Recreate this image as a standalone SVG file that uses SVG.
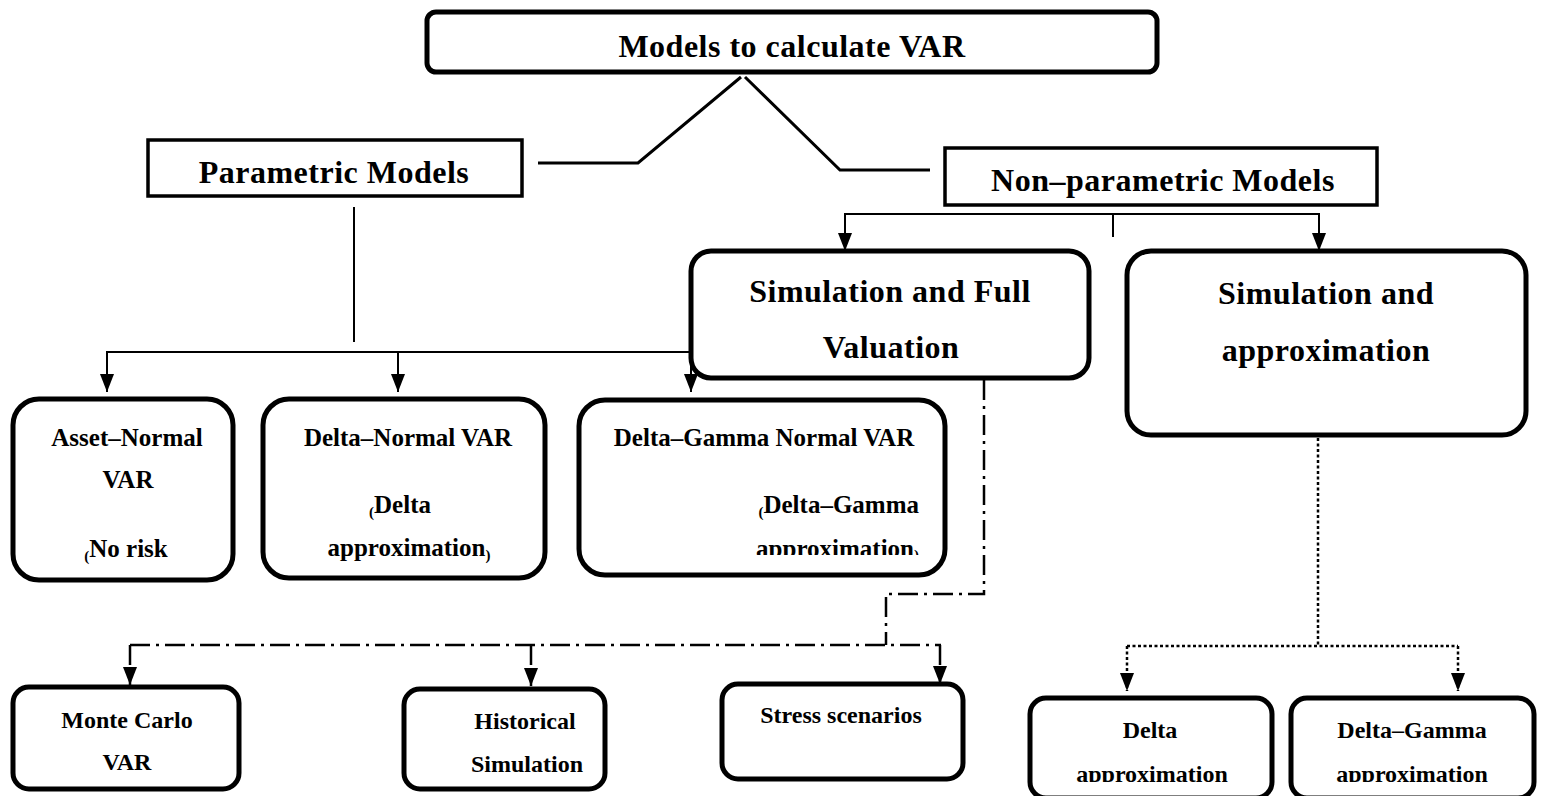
<svg xmlns="http://www.w3.org/2000/svg" width="1542" height="796" viewBox="0 0 1542 796">
<style>
text{font-family:"Liberation Serif","DejaVu Serif",serif;font-weight:bold;fill:#000;text-anchor:middle}
.rb{fill:#fff;stroke:#000;stroke-width:5}
.sq{fill:#fff;stroke:#000;stroke-width:3.5}
.c{fill:none;stroke:#000;stroke-width:2}
.c3{fill:none;stroke:#000;stroke-width:3}
.dd{fill:none;stroke:#000;stroke-width:2.5;stroke-dasharray:20 6 3 6}
.dt{fill:none;stroke:#000;stroke-width:2.5;stroke-dasharray:3 2.5}
.t28{font-size:32px;letter-spacing:0.5px}
.t24{font-size:25px}
.t20{font-size:24px}
.p{font-size:15px}
</style>
<defs>
<marker id="ah" markerUnits="userSpaceOnUse" markerWidth="18" markerHeight="14" refX="18" refY="7" orient="auto" viewBox="0 0 18 14">
<path d="M0,0 L18,7 L0,14 Z" fill="#000"/>
</marker>
<clipPath id="clipDG"><rect x="580" y="400" width="364" height="155"/></clipPath>
<clipPath id="clipBot"><rect x="0" y="600" width="1542" height="182"/></clipPath>
</defs>

<g id="connectors">
<polyline class="c3" points="741,77 638,163 538,163"/>
<polyline class="c3" points="745,77 840,170 930,170"/>
<line class="c" x1="354" y1="207" x2="354" y2="342"/>
<line class="c" x1="107" y1="352" x2="692" y2="352"/>
<line class="c" x1="107" y1="351" x2="107" y2="392" marker-end="url(#ah)"/>
<line class="c" x1="398" y1="352" x2="398" y2="392" marker-end="url(#ah)"/>
<line class="c" x1="691" y1="352" x2="691" y2="392" marker-end="url(#ah)"/>
<line class="c" x1="844" y1="214" x2="1320" y2="214"/>
<line class="c" x1="1113" y1="214" x2="1113" y2="237"/>
<line class="c" x1="845" y1="213" x2="845" y2="251" marker-end="url(#ah)"/>
<line class="c" x1="1319" y1="213" x2="1319" y2="251" marker-end="url(#ah)"/>
<polyline class="dd" points="984,380 984,594 886,594 886,645"/>
<line class="dd" x1="130" y1="645" x2="941" y2="645"/>
<line class="dd" x1="130" y1="645" x2="130" y2="685" marker-end="url(#ah)"/>
<line class="dd" x1="531" y1="645" x2="531" y2="686" marker-end="url(#ah)"/>
<line class="dd" x1="940" y1="645" x2="940" y2="684" marker-end="url(#ah)"/>
<line class="dt" x1="1318" y1="438" x2="1318" y2="646"/>
<line class="dt" x1="1127" y1="646" x2="1458" y2="646"/>
<line class="dt" x1="1127" y1="646" x2="1127" y2="691" marker-end="url(#ah)"/>
<line class="dt" x1="1458" y1="646" x2="1458" y2="691" marker-end="url(#ah)"/>
</g>

<g id="n-top">
<rect class="rb" x="427" y="12" width="730" height="60" rx="9"/>
<text class="t28" x="792" y="57">Models to calculate VAR</text>
</g>

<g id="n-param">
<rect class="sq" x="148" y="140" width="374" height="56"/>
<text class="t28" x="334" y="183">Parametric Models</text>
</g>

<g id="n-nonparam">
<rect class="sq" x="945" y="148" width="432" height="57"/>
<text class="t28" x="1163" y="191">Non–parametric Models</text>
</g>

<g id="n-simfull">
<rect class="rb" x="691" y="251" width="398" height="127" rx="20"/>
<text class="t28" x="890" y="302">Simulation and Full</text>
<text class="t28" x="891" y="358">Valuation</text>
</g>

<g id="n-simapprox">
<rect class="rb" x="1127" y="251" width="399" height="184" rx="24"/>
<text class="t28" x="1326" y="304">Simulation and</text>
<text class="t28" x="1326" y="361">approximation</text>
</g>

<g id="n-asset">
<rect class="rb" x="13" y="399" width="220" height="181" rx="26"/>
<text class="t24" x="127" y="446">Asset–Normal</text>
<text class="t24" x="128" y="488">VAR</text>
<text class="t24" x="126" y="557"><tspan class="p" dy="4">(</tspan><tspan dy="-4">No risk</tspan></text>
</g>

<g id="n-deltanormal">
<rect class="rb" x="263" y="399" width="282" height="179" rx="26"/>
<text class="t24" x="408" y="446">Delta–Normal VAR</text>
<text class="t24" x="400" y="513"><tspan class="p" dy="4">(</tspan><tspan dy="-4">Delta</tspan></text>
<text class="t24" x="409" y="556">approximation<tspan class="p" dy="4">)</tspan></text>
</g>

<g id="n-deltagamma">
<rect class="rb" x="579" y="400" width="366" height="175" rx="26"/>
<text class="t24" x="764" y="446">Delta–Gamma Normal VAR</text>
<g clip-path="url(#clipDG)">
<text class="t24" x="919" y="513" style="text-anchor:end"><tspan class="p" dy="4">(</tspan><tspan dy="-4">Delta–Gamma</tspan></text>
<text class="t24" x="919" y="557" style="text-anchor:end">approximation<tspan class="p" dy="3">)</tspan></text>
</g>
</g>

<g id="n-montecarlo">
<rect class="rb" x="13" y="687" width="226" height="102" rx="16"/>
<text class="t20" x="127" y="728">Monte Carlo</text>
<text class="t20" x="127" y="770">VAR</text>
</g>

<g id="n-historical">
<rect class="rb" x="404" y="689" width="201" height="100" rx="16"/>
<text class="t20" x="525" y="729">Historical</text>
<text class="t20" x="527" y="772">Simulation</text>
</g>

<g id="n-stress">
<rect class="rb" x="722" y="684" width="241" height="95" rx="16"/>
<text class="t20" x="841" y="723">Stress scenarios</text>
</g>

<g id="n-delta">
<rect class="rb" x="1030" y="698" width="242" height="100" rx="16"/>
<text class="t20" x="1150" y="738">Delta</text>
<g clip-path="url(#clipBot)"><text class="t20" x="1152" y="782">approximation</text></g>
</g>

<g id="n-deltagammaapprox">
<rect class="rb" x="1291" y="698" width="243" height="100" rx="16"/>
<text class="t20" x="1412" y="738">Delta–Gamma</text>
<g clip-path="url(#clipBot)"><text class="t20" x="1412" y="782">approximation</text></g>
</g>
</svg>
